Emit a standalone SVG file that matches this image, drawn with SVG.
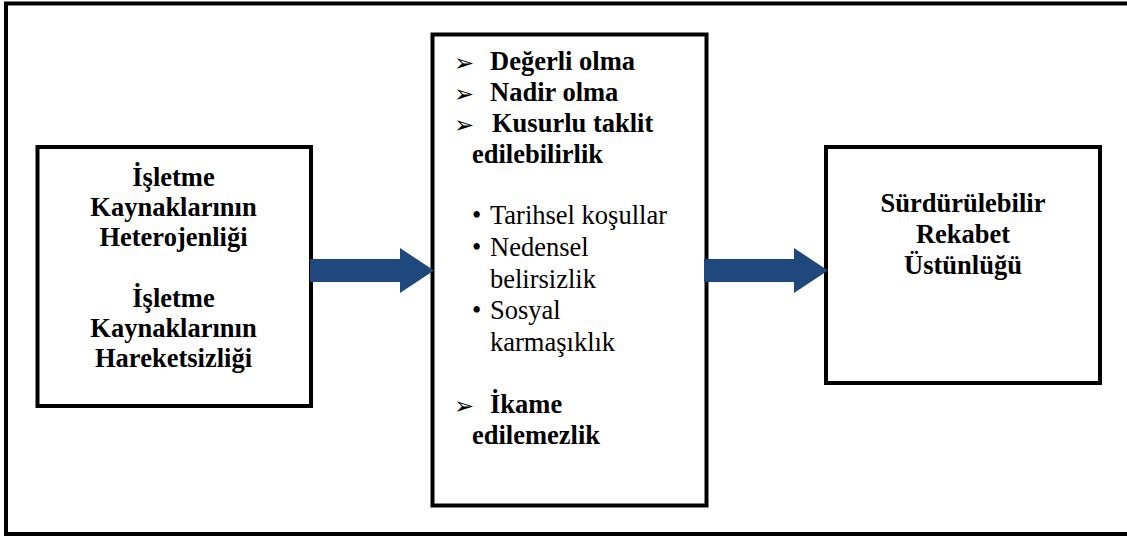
<svg xmlns="http://www.w3.org/2000/svg" width="1127" height="536" viewBox="0 0 1127 536">
  <style>
    .box { fill: #ffffff; stroke: #000000; stroke-width: 4; }
    .frame { fill: none; stroke: #000000; stroke-width: 4; }
    .arrow { fill: #1F497D; }
    .t { font-family: "Liberation Serif", "Times New Roman", serif; font-size: 26.5px; fill: #000000; }
    .b { font-weight: bold; }
    .c { text-anchor: middle; }
    .mark { font-family: "DejaVu Sans", sans-serif; font-size: 24px; fill: #000000; }
  </style>

  <!-- outer frame (open on the right edge) -->
  <path class="frame" d="M 1127 3.5 H 6 V 534 H 1127"/>

  <!-- left node: resource properties -->
  <g id="node-resources">
    <rect class="box" x="37.5" y="147" width="273.5" height="259"/>
    <text class="t b c" x="173.5" y="186">İşletme</text>
    <text class="t b c" x="173.5" y="216">Kaynaklarının</text>
    <text class="t b c" x="173.5" y="246">Heterojenliği</text>
    <text class="t b c" x="173.5" y="307">İşletme</text>
    <text class="t b c" x="173.5" y="337">Kaynaklarının</text>
    <text class="t b c" x="173.5" y="367">Hareketsizliği</text>
  </g>

  <!-- middle node: resource attributes -->
  <g id="node-attributes">
    <rect class="box" x="432.5" y="34.5" width="274" height="471"/>
    <text class="mark" x="454" y="71">➢</text>
    <text class="t b" x="490" y="70">Değerli olma</text>
    <text class="mark" x="454" y="102">➢</text>
    <text class="t b" x="490" y="101">Nadir olma</text>
    <text class="mark" x="454" y="133">➢</text>
    <text class="t b" x="492" y="132">Kusurlu taklit</text>
    <text class="t b" x="472" y="163">edilebilirlik</text>

    <text class="t" x="472" y="224">•</text>
    <text class="t" x="490" y="224">Tarihsel koşullar</text>
    <text class="t" x="472" y="256">•</text>
    <text class="t" x="490" y="256">Nedensel</text>
    <text class="t" x="490" y="288">belirsizlik</text>
    <text class="t" x="472" y="319">•</text>
    <text class="t" x="490" y="319">Sosyal</text>
    <text class="t" x="490" y="351">karmaşıklık</text>

    <text class="mark" x="454" y="414">➢</text>
    <text class="t b" x="490" y="413">İkame</text>
    <text class="t b" x="472" y="444">edilemezlik</text>
  </g>

  <!-- right node: outcome -->
  <g id="node-advantage">
    <rect class="box" x="826" y="147" width="274" height="236"/>
    <text class="t b c" x="963" y="212">Sürdürülebilir</text>
    <text class="t b c" x="963" y="243">Rekabet</text>
    <text class="t b c" x="963" y="274">Üstünlüğü</text>
  </g>

  <!-- block arrows between nodes -->
  <g id="connectors">
    <polygon class="arrow" points="310,259 400,259 400,248 434,270.5 400,293 400,282 310,282"/>
    <polygon class="arrow" points="704,259 794,259 794,248 828,270.5 794,293 794,282 704,282"/>
  </g>
</svg>
